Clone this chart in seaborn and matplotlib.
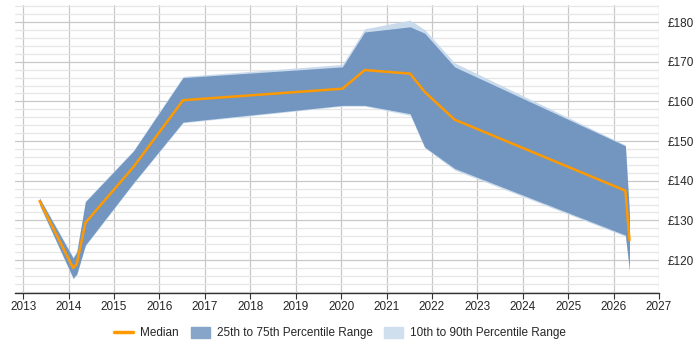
import matplotlib
matplotlib.use("Agg")
import matplotlib.pyplot as plt
import matplotlib.patches as mpatches
from matplotlib.lines import Line2D
from matplotlib.ticker import MultipleLocator, FuncFormatter
import numpy as np
import pandas as pd
import seaborn as sns

# Значения (годы как дробные даты)
years = [2013.36, 2014.10, 2014.18, 2014.37, 2015.43, 2016.52, 2020.03,
         2020.52, 2021.52, 2021.84, 2022.50, 2026.26, 2026.35]
median = [134.9, 118.0, 119.0, 129.4, 143.5, 160.3, 163.2,
          167.9, 167.0, 162.4, 155.4, 137.5, 125.0]
p25 = [134.0, 115.5, 116.5, 123.8, 139.5, 154.8, 159.0,
       159.0, 156.9, 148.5, 143.1, 126.3, 117.5]
p75 = [135.6, 120.5, 122.0, 134.7, 147.5, 166.0, 168.7,
       177.5, 178.8, 177.2, 168.7, 148.8, 131.5]
p10 = [133.8, 115.2, 116.2, 123.6, 139.3, 154.6, 158.8,
       158.8, 156.5, 148.3, 142.7, 126.0, 117.0]
p90 = [135.8, 120.8, 122.3, 134.9, 147.7, 166.3, 169.3,
       178.3, 180.5, 178.1, 169.7, 149.0, 132.0]

df = pd.DataFrame({"year": years, "median": median, "p25": p25, "p75": p75,
                   "p10": p10, "p90": p90})

sns.set_style("white")
plt.rcParams["font.family"] = ["Liberation Sans", "DejaVu Sans"]

fig = plt.figure(figsize=(7, 3.5), dpi=100)
ax = fig.add_axes([15 / 700, 1 - 293 / 350, 644 / 700, 288 / 350])

ax.fill_between(df["year"], df["p10"], df["p90"], color="#c9daec", lw=0, zorder=2)
ax.fill_between(df["year"], df["p25"], df["p75"], color="#6f94bf", lw=0,
                alpha=0.97, zorder=3)
sns.lineplot(data=df, x="year", y="median", color="#ff9900", lw=1.8, ax=ax,
             zorder=4, legend=False)

ax.set_xlim(2012.82, 2027.0)
ax.set_ylim(111.7, 184.3)
ax.xaxis.set_major_locator(MultipleLocator(1))
ax.xaxis.set_major_formatter(FuncFormatter(lambda v, p: f"{int(round(v))}"))
ax.yaxis.set_major_locator(MultipleLocator(10))
ax.yaxis.set_minor_locator(MultipleLocator(2))
ax.yaxis.set_major_formatter(FuncFormatter(lambda v, p: f"£{int(round(v))}"))
ax.yaxis.tick_right()
ax.grid(which="major", axis="both", color="#c8c8c8", lw=0.9, zorder=0)
ax.grid(which="minor", axis="y", color="#e6e6e6", lw=0.9, zorder=0)
ax.set_axisbelow(True)
ax.set_xlabel("")
ax.set_ylabel("")
for s in ["top", "left", "right"]:
    ax.spines[s].set_visible(False)
ax.spines["bottom"].set_color("#333333")
ax.spines["bottom"].set_linewidth(1)
ax.tick_params(axis="x", which="major", length=4, color="#333333",
               labelsize=8.5, pad=2, bottom=True)
ax.tick_params(axis="y", which="both", length=0, labelsize=8.5, pad=6)

handles = [Line2D([0], [0], color="#ff9900", lw=2.5, label="Median"),
           mpatches.Patch(color="#86a5c8", label="25th to 75th Percentile Range"),
           mpatches.Patch(color="#cfdfee", label="10th to 90th Percentile Range")]
fig.legend(handles=handles, loc="center", bbox_to_anchor=(0.486, 1 - 333 / 350),
           ncol=3, frameon=False, fontsize=8.5, handlelength=1.6,
           handleheight=1.1, columnspacing=1.0, handletextpad=0.6)

fig.savefig("out.png", dpi=100)
